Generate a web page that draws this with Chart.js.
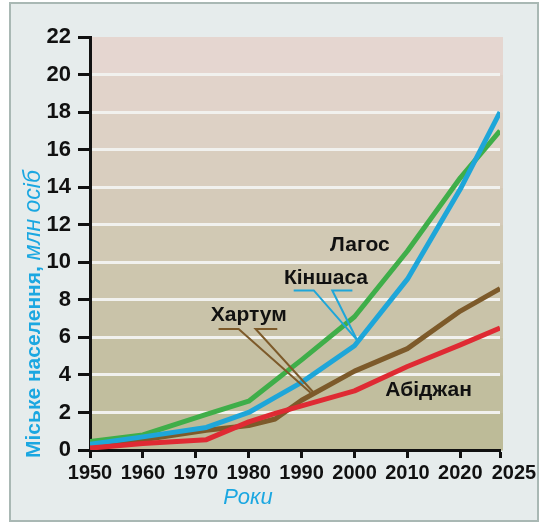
<!DOCTYPE html>
<html lang="uk">
<head>
<meta charset="UTF-8">
<title>Міське населення</title>
<script src="https://cdn.jsdelivr.net/npm/chart.js"></script>
<style>
  body { margin: 0; background: #fff; }
  #frame {
    position: absolute; left: 9px; top: 2px;
    width: 526px; height: 516px;
    border: 2px solid #a9b8b4;
    background: #e6ecec;
  }
  canvas { position: absolute; left: 0; top: 0; }
</style>
</head>
<body>
<div id="frame"></div>
<canvas id="chart" width="543" height="522"></canvas>
<script>
// міське населення, млн осіб
const years    = [1950, 1960, 1972, 1980, 1985, 1990, 2000, 2010, 2020, 2025];
const lagos    = [0.45, 0.8, 1.9, 2.6, 3.7, 4.8, 7.1, 10.6, 14.5, 17.0];
const kinshasa = [0.3, 0.7, 1.2, 2.0, 2.8, 3.6, 5.55, 9.1, 13.9, 18.0];
const khartoum = [0.25, 0.55, 1.05, 1.3, 1.65, 2.65, 4.2, 5.4, 7.4, 8.6];
const abidjan  = [0.1, 0.35, 0.55, 1.5, 1.95, 2.35, 3.15, 4.45, 5.6, 6.5];

const yearTicks = [1950, 1960, 1970, 1980, 1990, 2000, 2010, 2020, 2025];
const popTicks  = [0, 2, 4, 6, 8, 10, 12, 14, 16, 18, 20, 22];

// підписи міст: назва, рік, значення
const cityNames  = ['Лагос', 'Кіншаса', 'Хартум', 'Абіджан'];
const cityYears  = [2001, 1994.6, 1980, 2014];
const cityValues = [10.9, 9.15, 7.2, 3.2];

// виноски до ліній (рік, значення)
const leaders = [
  { color: '#1ea6d9', pts: [[1988.5, 8.5], [1992.3, 8.5], [2000.5, 5.85]] },
  { color: '#1ea6d9', pts: [[1999.6, 8.5], [1995.8, 8.5], [2000.5, 5.85]] },
  { color: '#7d5a2a', pts: [[1974.3, 6.45], [1978.1, 6.45], [1991.7, 3.05]] },
  { color: '#7d5a2a', pts: [[1985.4, 6.45], [1981.3, 6.45], [1992.3, 3.05]] }
];

const FONT = "'Liberation Sans', Arial, sans-serif";
const CYAN = '#1ba7e1';

// вісь років: останній відрізок 2020–2025 розтягнутий
const STRETCH_FROM = 2020, STRETCH = 1.5;
class YearScale extends Chart.LinearScale {
  warp(v) { return v > STRETCH_FROM ? STRETCH_FROM + (v - STRETCH_FROM) * STRETCH : v; }
  getPixelForValue(value) {
    const a = this.warp(this.min), b = this.warp(this.max);
    return this.getPixelForDecimal((this.warp(value) - a) / (b - a));
  }
  getValueForPixel(pixel) {
    const a = this.warp(this.min), b = this.warp(this.max);
    const w = a + this.getDecimalForPixel(pixel) * (b - a);
    return w > STRETCH_FROM ? STRETCH_FROM + (w - STRETCH_FROM) / STRETCH : w;
  }
}
YearScale.id = 'years';
YearScale.defaults = Chart.LinearScale.defaults;
Chart.register(YearScale);

function series(vals) {
  return years.map((x, i) => ({ x: x, y: vals[i] }));
}

function mix(a, b, t) {
  return 'rgb(' + a.map((c, i) => Math.round(c + (b[i] - c) * t)).join(',') + ')';
}

const decor = {
  id: 'decor',
  beforeDraw(chart) {
    // фон смугами між лініями сітки
    const { ctx, chartArea: a, scales: { y } } = chart;
    const top = [229, 214, 208], bottom = [189, 187, 152];
    const n = popTicks.length - 1;
    ctx.save();
    for (let i = 0; i < n; i++) {
      const y0 = y.getPixelForValue(popTicks[i + 1]);
      const y1 = y.getPixelForValue(popTicks[i]);
      ctx.fillStyle = mix(bottom, top, i / (n - 1));
      ctx.fillRect(a.left, y0, a.right + 3 - a.left, y1 - y0 + 0.5);
    }
    ctx.restore();
  },
  afterDatasetsDraw(chart) {
    const { ctx, scales: { x, y } } = chart;
    ctx.save();
    ctx.lineWidth = 2;
    leaders.forEach(l => {
      ctx.strokeStyle = l.color;
      ctx.beginPath();
      l.pts.forEach((p, i) => {
        const px = x.getPixelForValue(p[0]), py = y.getPixelForValue(p[1]);
        if (i === 0) ctx.moveTo(px, py); else ctx.lineTo(px, py);
      });
      ctx.stroke();
    });
    ctx.fillStyle = '#111';
    ctx.font = 'bold 21px ' + FONT;
    ctx.textAlign = 'center';
    ctx.textBaseline = 'middle';
    cityNames.forEach((name, i) => {
      ctx.fillText(name, x.getPixelForValue(cityYears[i]), y.getPixelForValue(cityValues[i]));
    });
    ctx.restore();
  },
  afterDraw(chart) {
    const { ctx } = chart;
    ctx.save();
    ctx.fillStyle = CYAN;
    // підпис осі Y: жирна частина + курсив
    ctx.translate(40, 458);
    ctx.rotate(-Math.PI / 2);
    ctx.textAlign = 'left';
    ctx.textBaseline = 'alphabetic';
    const bold = 'Міське населення, ';
    ctx.font = 'bold 21px ' + FONT;
    ctx.fillText(bold, 0, 0);
    const w = ctx.measureText(bold).width;
    ctx.font = 'italic 23px ' + FONT;
    ctx.fillText('млн осіб', w, 0);
    ctx.setTransform(1, 0, 0, 1, 0, 0);
    // підпис осі X
    ctx.font = 'italic 22px ' + FONT;
    ctx.textAlign = 'center';
    ctx.fillText('Роки', 248, 504);
    ctx.restore();
  }
};

new Chart(document.getElementById('chart'), {
  type: 'line',
  data: {
    datasets: [
      { label: 'Абіджан', data: series(abidjan), borderColor: '#df2a33' },
      { label: 'Кіншаса', data: series(kinshasa), borderColor: '#1ea6d9' },
      { label: 'Лагос', data: series(lagos), borderColor: '#3fae49' },
      { label: 'Хартум', data: series(khartoum), borderColor: '#7d5a2a' }
    ]
  },
  options: {
    responsive: false,
    animation: false,
    layout: { padding: { top: 37, right: 43, left: 0, bottom: 0 } },
    elements: {
      line: { borderWidth: 5, tension: 0, borderJoinStyle: 'round', fill: false },
      point: { radius: 0 }
    },
    plugins: { legend: { display: false }, tooltip: { enabled: false } },
    scales: {
      x: {
        type: 'years',
        min: 1950,
        max: 2025,
        afterFit(s) { s.height = 72; },
        afterBuildTicks(s) { s.ticks = yearTicks.map(v => ({ value: v })); },
        border: { color: '#111', width: 3 },
        grid: { drawOnChartArea: false, drawTicks: true, tickLength: 8, tickWidth: 3, tickColor: '#111' },
        ticks: {
          autoSkip: false,
          maxRotation: 0,
          padding: 3,
          color: '#111',
          font: { family: FONT, weight: 'bold', size: 20 },
          callback: v => v === 2025 ? '     2025' : String(v)
        }
      },
      y: {
        min: 0,
        max: 22,
        afterFit(s) { s.width = 90; },
        afterBuildTicks(s) { s.ticks = popTicks.map(v => ({ value: v })); },
        border: { color: '#111', width: 3 },
        grid: {
          color: c => (c.tick && (c.tick.value === 0 || c.tick.value === 22)) ? 'rgba(0,0,0,0)' : '#f1f1ee',
          lineWidth: 3,
          drawTicks: true,
          tickLength: 12,
          tickWidth: 3,
          tickColor: '#111'
        },
        ticks: {
          padding: 7,
          color: '#111',
          font: { family: FONT, weight: 'bold', size: 22 },
          callback: v => String(v)
        }
      }
    }
  },
  plugins: [decor]
});
</script>
</body>
</html>
